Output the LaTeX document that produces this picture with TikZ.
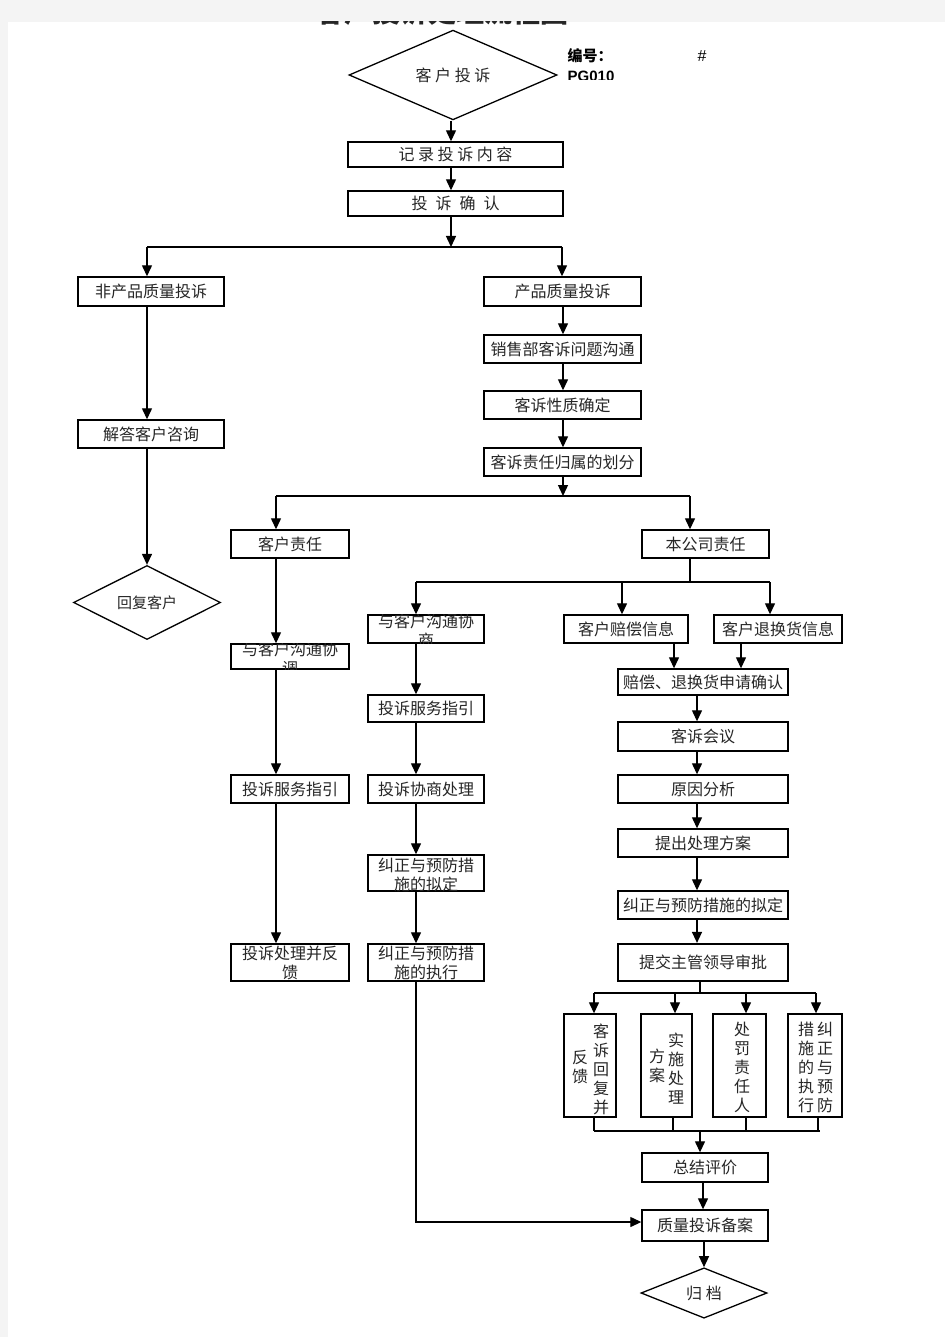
\documentclass[tikz,border=0pt]{standalone}
\usepackage{fontspec}
\setmainfont{Noto Sans CJK SC}
\newfontfamily\lat{Liberation Sans}
\usetikzlibrary{shapes.geometric,arrows.meta}
\definecolor{bgg}{HTML}{F4F4F4}
\definecolor{txt}{HTML}{262626}
\tikzset{
  box/.style={draw, line width=1.4pt, rectangle, inner sep=0pt, font=\fontsize{16}{19}\selectfont, text=txt},
  dia/.style={draw, line width=1.3pt, diamond, inner sep=0pt, font=\fontsize{16}{19}\selectfont, text=txt},
  arr/.style={line width=1.3pt, -{Triangle[length=11pt,width=10pt]}},
  ln/.style={line width=1.3pt},
  lbl/.style={inner sep=0pt, align=center, font=\fontsize{16}{19}\selectfont, text=txt},
}
\begin{document}
\begin{tikzpicture}[x=1pt,y=-1pt]
\useasboundingbox (0,0) rectangle (945,1337);
\fill[bgg] (0,0) rectangle (945,1337);
\fill[white] (8,22) rectangle (945,1337);
% title (mostly hidden above page edge)
\begin{scope}
\clip (8,22) rectangle (945,60);
\node[anchor=base, inner sep=0pt, font=\fontsize{28}{28}\selectfont\bfseries, text=txt] (title) at (442,23) {客户投诉处理流程图};
\end{scope}
\node[inner sep=0pt, font=\fontsize{15}{15}\selectfont\bfseries] (no) at (590,56) {编号：};
\node[inner sep=0pt, font=\lat\fontsize{16}{16}\selectfont] (hash) at (702,56) {\#};
\begin{scope}
\clip (560,60) rectangle (640,79.5);
\node[inner sep=0pt, font=\lat\fontsize{15}{15}\selectfont\bfseries] (code) at (591,76) {PG010};
\end{scope}

% nodes
\node[dia, minimum width=208pt, minimum height=78pt] (start) at (453,75) {客 户 投 诉};
\node[box, minimum width=215pt, minimum height=25pt] (rec) at (455.5,154.5) {记 录 投 诉 内 容};
\node[box, minimum width=215pt, minimum height=25pt] (conf) at (455.5,203.5) {投\hspace{8pt}诉\hspace{8pt}确\hspace{8pt}认};
\node[box, minimum width=146pt, minimum height=29pt] (nonq) at (151,291.5) {非产品质量投诉};
\node[box, minimum width=157pt, minimum height=29pt] (qual) at (562.5,291.5) {产品质量投诉};
\node[box, minimum width=146pt, minimum height=28pt] (ans) at (151,434) {解答客户咨询};
\node[dia, minimum width=147pt, minimum height=45pt, font=\fontsize{15}{17}\selectfont] (reply) at (147,602.5) {回复客户};
\node[box, minimum width=157pt, minimum height=28pt] (sales) at (562.5,349) {销售部客诉问题沟通};
\node[box, minimum width=157pt, minimum height=28pt] (nature) at (562.5,405) {客诉性质确定};
\node[box, minimum width=157pt, minimum height=28pt] (divide) at (562.5,462) {客诉责任归属的划分};
\node[box, minimum width=118pt, minimum height=28pt] (cust) at (290,544) {客户责任};
\node[box, minimum width=127pt, minimum height=28pt] (comp) at (705.5,544) {本公司责任};
\node[box, minimum width=118pt, minimum height=25pt] (coord) at (290,656.5) {};
\node[box, minimum width=116pt, minimum height=28pt] (neg) at (426,629) {};
\node[box, minimum width=124pt, minimum height=28pt] (compinfo) at (626,629) {客户赔偿信息};
\node[box, minimum width=128pt, minimum height=28pt] (retinfo) at (778,629) {客户退换货信息};
\node[box, minimum width=170pt, minimum height=26pt] (appl) at (703,682) {赔偿、退换货申请确认};
\node[box, minimum width=170pt, minimum height=29pt] (meet) at (703,736.5) {客诉会议};
\node[box, minimum width=170pt, minimum height=28pt] (cause) at (703,789) {原因分析};
\node[box, minimum width=170pt, minimum height=28pt] (plan) at (703,843) {提出处理方案};
\node[box, minimum width=170pt, minimum height=28pt] (prevR) at (703,905) {纠正与预防措施的拟定};
\node[box, line width=2.2pt, minimum width=170pt, minimum height=37pt] (submit) at (703,962.5) {提交主管领导审批};
\node[box, minimum width=52pt, minimum height=103pt] (v1) at (590,1065.5) {};
\node[box, minimum width=51pt, minimum height=103pt] (v2) at (666.5,1065.5) {};
\node[box, minimum width=53pt, minimum height=103pt] (v3) at (739.5,1065.5) {};
\node[box, minimum width=54pt, minimum height=103pt] (v4) at (815,1065.5) {};
\node[box, minimum width=126pt, minimum height=29pt] (sum) at (705,1167.5) {总结评价};
\node[box, minimum width=126pt, minimum height=31pt] (file) at (705,1225.5) {质量投诉备案};
\node[dia, minimum width=126pt, minimum height=50pt] (arch) at (704,1293) {归 档};
\node[box, minimum width=118pt, minimum height=28pt] (guideL) at (290,789) {投诉服务指引};
\node[box, minimum width=118pt, minimum height=37pt] (feedL) at (290,962.5) {};
\node[box, minimum width=116pt, minimum height=27pt] (guideM) at (426,708.5) {投诉服务指引};
\node[box, minimum width=116pt, minimum height=28pt] (negM) at (426,789) {投诉协商处理};
\node[box, minimum width=116pt, minimum height=36pt] (prevM) at (426,873) {};
\node[box, minimum width=116pt, minimum height=37pt] (execM) at (426,962.5) {};

% two-line texts, clipped by their boxes
\begin{scope}
\clip (coord.south west) rectangle (coord.north east);
\node[lbl] (coordT) at (290,658.5) {与客户沟通协\\调};
\end{scope}
\begin{scope}
\clip (neg.south west) rectangle (neg.north east);
\node[lbl] (negT) at (426,631) {与客户沟通协\\商};
\end{scope}
\begin{scope}
\clip (prevM.south west) rectangle (prevM.north east);
\node[lbl] (prevMT) at (426,875) {纠正与预防措\\施的拟定};
\end{scope}
\begin{scope}
\clip (execM.south west) rectangle (execM.north east);
\node[lbl] (execMT) at (426,963) {纠正与预防措\\施的执行};
\end{scope}
\node[lbl] (feedLT) at (290,962.5) {投诉处理并反\\馈};

% vertical texts
\node[lbl] (v1a) at (601,1069) {客\\诉\\回\\复\\并};
\node[lbl] (v1b) at (580,1067) {反\\馈};
\node[lbl] (v2a) at (676,1069) {实\\施\\处\\理};
\node[lbl] (v2b) at (657,1066) {方\\案};
\node[lbl] (v3a) at (742,1067) {处\\罚\\责\\任\\人};
\node[lbl] (v4a) at (825,1067) {纠\\正\\与\\预\\防};
\node[lbl] (v4b) at (806,1067) {措\\施\\的\\执\\行};

% connectors
\coordinate (xa) at (451,0);
\draw[arr] (start.south -| xa) -- (rec.north -| xa);
\draw[arr] (rec.south -| xa) -- (conf.north -| xa);
\coordinate (j1) at (451,247);
\coordinate (j1l) at (147,247);
\coordinate (j1r) at (562,247);
\draw[arr] (conf.south -| xa) -- (j1);
\draw[ln] (j1l) -- (j1r);
\draw[arr] (j1l) -- (nonq.north -| j1l);
\draw[arr] (j1r) -- (qual.north -| j1r);
\draw[arr] (nonq.south -| j1l) -- (ans.north -| j1l);
\draw[arr] (ans.south -| reply.north) -- (reply.north);

\coordinate (xc) at (563,0);
\draw[arr] (qual.south -| xc) -- (sales.north -| xc);
\draw[arr] (sales.south -| xc) -- (nature.north -| xc);
\draw[arr] (nature.south -| xc) -- (divide.north -| xc);
\coordinate (j2) at (563,496);
\coordinate (j2l) at (276,496);
\coordinate (j2r) at (690,496);
\draw[arr] (divide.south -| xc) -- (j2);
\draw[ln] (j2l) -- (j2r);
\draw[arr] (j2l) -- (cust.north -| j2l);
\draw[arr] (j2r) -- (comp.north -| j2r);
\draw[arr] (cust.south -| j2l) -- (coord.north -| j2l);
\draw[arr] (coord.south -| j2l) -- (guideL.north -| j2l);
\draw[arr] (guideL.south -| j2l) -- (feedL.north -| j2l);

\coordinate (j3) at (690,582);
\coordinate (j3l) at (416,582);
\coordinate (j3m) at (622,582);
\coordinate (j3r) at (770,582);
\draw[ln] (comp.south -| j3) -- (j3);
\draw[ln] (j3l) -- (j3r);
\draw[arr] (j3l) -- (neg.north -| j3l);
\draw[arr] (j3m) -- (compinfo.north -| j3m);
\draw[arr] (j3r) -- (retinfo.north -| j3r);
\coordinate (xd) at (674,0);
\coordinate (xe) at (741,0);
\draw[arr] (compinfo.south -| xd) -- (appl.north -| xd);
\draw[arr] (retinfo.south -| xe) -- (appl.north -| xe);
\coordinate (xf) at (697,0);
\draw[arr] (appl.south -| xf) -- (meet.north -| xf);
\draw[arr] (meet.south -| xf) -- (cause.north -| xf);
\draw[arr] (cause.south -| xf) -- (plan.north -| xf);
\draw[arr] (plan.south -| xf) -- (prevR.north -| xf);
\draw[arr] (prevR.south -| xf) -- (submit.north -| xf);

\coordinate (j4) at (700,993);
\coordinate (j4a) at (594,993);
\coordinate (j4b) at (675,993);
\coordinate (j4c) at (746,993);
\coordinate (j4d) at (816,993);
\draw[ln] (submit.south -| j4) -- (j4);
\draw[ln] (j4a) -- (j4d);
\draw[arr] (j4a) -- (v1.north -| j4a);
\draw[arr] (j4b) -- (v2.north -| j4b);
\draw[arr] (j4c) -- (v3.north -| j4c);
\draw[arr] (j4d) -- (v4.north -| j4d);
\coordinate (k1) at (594,1131);
\coordinate (k2) at (673,1131);
\coordinate (k3) at (746,1131);
\coordinate (k4) at (818,1131);
\coordinate (k5) at (820,1131);
\coordinate (j5) at (700,1131);
\draw[ln] (v1.south -| k1) -- (k1);
\draw[ln] (v2.south -| k2) -- (k2);
\draw[ln] (v3.south -| k3) -- (k3);
\draw[ln] (v4.south -| k4) -- (k4);
\draw[ln] (k1) -- (k5);
\draw[arr] (j5) -- (sum.north -| j5);
\coordinate (xg) at (703,0);
\draw[arr] (sum.south -| xg) -- (file.north -| xg);
\draw[arr] (file.south -| arch.north) -- (arch.north);

\coordinate (xm) at (416,0);
\draw[arr] (neg.south -| xm) -- (guideM.north -| xm);
\draw[arr] (guideM.south -| xm) -- (negM.north -| xm);
\draw[arr] (negM.south -| xm) -- (prevM.north -| xm);
\draw[arr] (prevM.south -| xm) -- (execM.north -| xm);
\coordinate (j6) at (416,1222);
\draw[arr] (execM.south -| xm) -- (j6) -- (file.west |- j6);
\end{tikzpicture}
\end{document}
